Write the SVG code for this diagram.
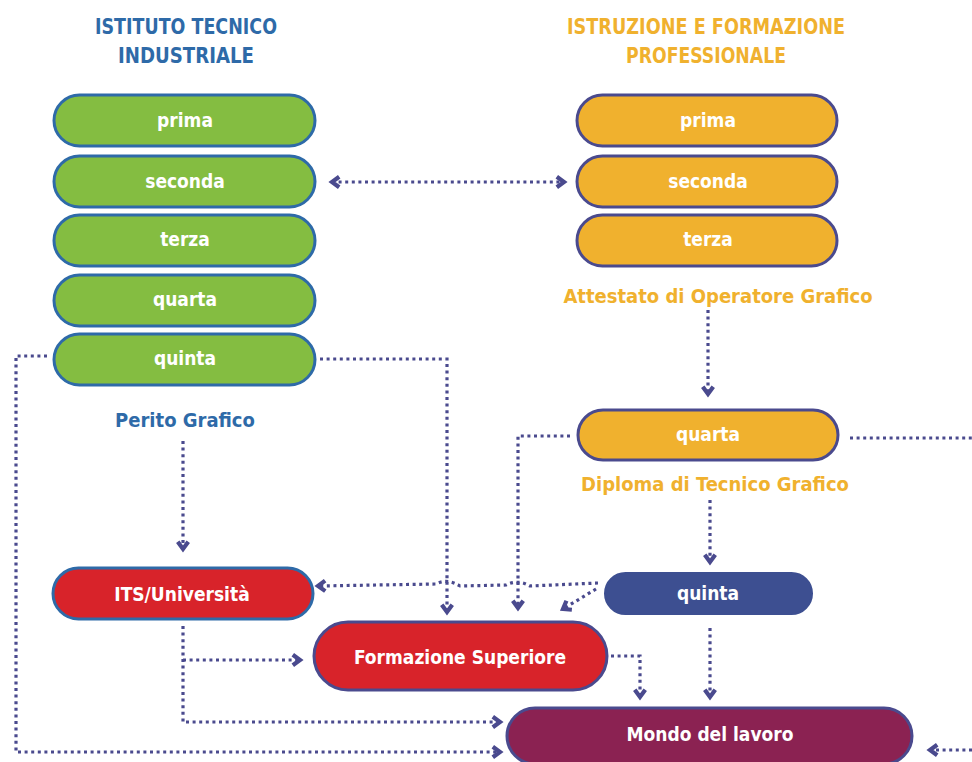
<svg xmlns="http://www.w3.org/2000/svg" width="972" height="762" viewBox="0 0 972 762">
<defs>
<style>
.t{font-family:"DejaVu Sans",sans-serif;font-stretch:condensed;font-weight:bold;text-anchor:middle}
.nt{fill:#ffffff;font-size:19px}
.g{fill:#84bd41;stroke:#2e6aa8;stroke-width:3}
.o{fill:#f0b12e;stroke:#4a4a8e;stroke-width:3}
.r{fill:#d8232a;stroke:#2e6aa8;stroke-width:3}
.r2{fill:#d8232a;stroke:#4a4a8e;stroke-width:3}
.c{fill:none;stroke:#4a4a8e;stroke-width:3.2;stroke-dasharray:3 3.6}
.blue{fill:#2e6aa8}
.orange{fill:#f0b12e}
</style>
<marker id="ah" viewBox="0 0 10 10" refX="7" refY="5" markerWidth="15" markerHeight="15" markerUnits="userSpaceOnUse" orient="auto-start-reverse">
<path d="M2.2,1.5 L7,5 L2.2,8.5" fill="none" stroke="#4a4a8e" stroke-width="2.8"/>
</marker>
</defs>
<rect width="972" height="762" fill="#ffffff"/>

<g id="titles">
<text class="t blue" x="186" y="34" font-size="21" textLength="182" lengthAdjust="spacingAndGlyphs">ISTITUTO TECNICO</text>
<text class="t blue" x="186" y="63" font-size="21" textLength="136" lengthAdjust="spacingAndGlyphs">INDUSTRIALE</text>
<text class="t orange" x="706" y="34" font-size="21" textLength="278" lengthAdjust="spacingAndGlyphs">ISTRUZIONE E FORMAZIONE</text>
<text class="t orange" x="706" y="63" font-size="21" textLength="160" lengthAdjust="spacingAndGlyphs">PROFESSIONALE</text>
</g>

<g id="connectors">
<path class="c" d="M332,182 L564,182" marker-start="url(#ah)" marker-end="url(#ah)"/>
<path class="c" d="M47,356 L16,356 L16,752 L500,752" marker-end="url(#ah)"/>
<path class="c" d="M320,359 L447,359 L447,612" marker-end="url(#ah)"/>
<path class="c" d="M183,441 L183,549" marker-end="url(#ah)"/>
<path class="c" d="M183,626 L183,722 L500,722" marker-end="url(#ah)"/>
<path class="c" d="M183,660 L300,660" marker-end="url(#ah)"/>
<path class="c" d="M708,310 L708,394" marker-end="url(#ah)"/>
<path class="c" d="M850,438 L972,438"/>
<path class="c" d="M972,750 L930,750" marker-end="url(#ah)"/>
<path class="c" d="M570,436 L518,436 L518,608" marker-end="url(#ah)"/>
<path class="c" d="M710,500 L710,562" marker-end="url(#ah)"/>
<path class="c" d="M598,583 L530,586 Q518,579 506,585 L460,586 Q447,578 436,584 L318,586" marker-end="url(#ah)"/>
<path class="c" d="M596,589 L563,609" marker-end="url(#ah)"/>
<path class="c" d="M710,628 L710,697" marker-end="url(#ah)"/>
<path class="c" d="M611,656 L640,656 L640,697" marker-end="url(#ah)"/>
</g>

<g id="it-prima"><rect class="g" x="54" y="95" width="261" height="51" rx="25.5"/><text class="t nt" x="185" y="127">prima</text></g>
<g id="it-seconda"><rect class="g" x="54" y="156" width="261" height="51" rx="25.5"/><text class="t nt" x="185" y="188">seconda</text></g>
<g id="it-terza"><rect class="g" x="54" y="215" width="261" height="51" rx="25.5"/><text class="t nt" x="185" y="246">terza</text></g>
<g id="it-quarta"><rect class="g" x="54" y="275" width="261" height="51" rx="25.5"/><text class="t nt" x="185" y="306">quarta</text></g>
<g id="it-quinta"><rect class="g" x="54" y="334" width="261" height="51" rx="25.5"/><text class="t nt" x="185" y="365">quinta</text></g>
<g id="perito"><text class="t blue" x="185" y="427" font-size="20">Perito Grafico</text></g>

<g id="ifp-prima"><rect class="o" x="577" y="95" width="260" height="51" rx="25.5"/><text class="t nt" x="708" y="127">prima</text></g>
<g id="ifp-seconda"><rect class="o" x="577" y="156" width="260" height="51" rx="25.5"/><text class="t nt" x="708" y="188">seconda</text></g>
<g id="ifp-terza"><rect class="o" x="577" y="215" width="260" height="51" rx="25.5"/><text class="t nt" x="708" y="246">terza</text></g>
<g id="attestato"><text class="t orange" x="718" y="303" font-size="20">Attestato di Operatore Grafico</text></g>
<g id="ifp-quarta"><rect class="o" x="578" y="410" width="260" height="50" rx="25"/><text class="t nt" x="708" y="441">quarta</text></g>
<g id="diploma"><text class="t orange" x="715" y="491" font-size="20">Diploma di Tecnico Grafico</text></g>
<g id="ifp-quinta"><rect x="605" y="573" width="207" height="41" rx="20.5" fill="#3d4f91" stroke="#3d4f91" stroke-width="2"/><text class="t nt" x="708" y="600">quinta</text></g>

<g id="its"><rect class="r" x="53" y="568" width="260" height="51" rx="25.5"/><text class="t nt" x="182" y="601" font-size="22">ITS/Università</text></g>
<g id="formazione"><rect class="r2" x="314" y="622" width="293" height="68" rx="34"/><text class="t nt" x="460" y="664" font-size="22">Formazione Superiore</text></g>
<g id="mondo"><rect x="507" y="708" width="405" height="56" rx="28" fill="#8b2252" stroke="#4a4a8e" stroke-width="3"/><text class="t nt" x="710" y="741" font-size="18">Mondo del lavoro</text></g>
</svg>
